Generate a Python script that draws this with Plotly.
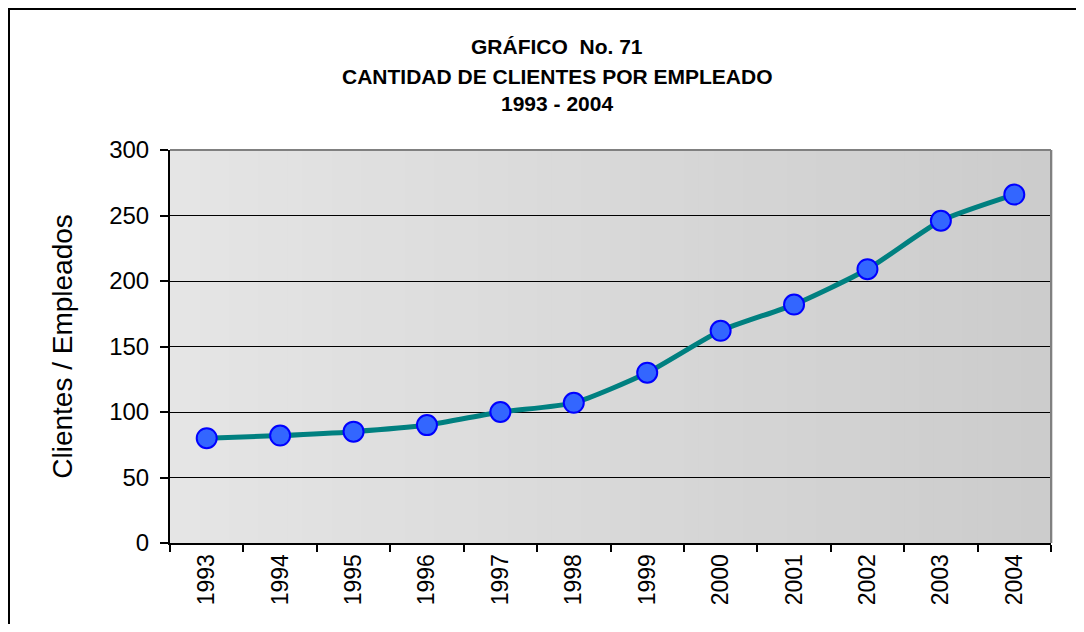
import plotly.graph_objects as go

years = ['1993', '1994', '1995', '1996', '1997', '1998',
         '1999', '2000', '2001', '2002', '2003', '2004']
clientes_por_empleado = [80, 82, 85, 90, 100, 107, 130, 162, 182, 209, 246, 266]
y_ticks = [0, 50, 100, 150, 200, 250, 300]
title_lines = ['GRÁFICO  No. 71', 'CANTIDAD DE CLIENTES POR EMPLEADO', '1993 - 2004']

FONT = 'Liberation Sans, Arial, sans-serif'

# page body has an 8px margin, so the figure is sized/placed to compensate
W, H = 1068, 616
L, R, T, B = 162, 25, 142, 81
plot_w = W - L - R
plot_h = H - T - B

fig = go.Figure()
fig.add_trace(go.Scatter(
    x=years, y=clientes_por_empleado,
    mode='lines+markers',
    line=dict(color='#008080', width=5, shape='spline', smoothing=0.6),
    marker=dict(size=20, color='#3366FF', line=dict(color='#0000FF', width=2)),
    showlegend=False,
))

# gradient plot background, light on the left, darker on the right
n_strips = 60
shapes = []
for i in range(n_strips):
    t = i / (n_strips - 1)
    g = round(229 - t * (229 - 204))
    shapes.append(dict(
        type='rect', xref='x domain', yref='y domain',
        x0=i / n_strips, x1=(i + 1) / n_strips + 0.002, y0=0, y1=1,
        fillcolor=f'rgb({g},{g},{g})', line=dict(width=0), layer='below'))

# grey frame on top and right of plot area
shapes.append(dict(type='line', xref='x domain', yref='y domain',
                   x0=0, x1=1, y0=1, y1=1, line=dict(color='#808080', width=2)))
shapes.append(dict(type='line', xref='x domain', yref='y domain',
                   x0=1, x1=1, y0=0, y1=1, line=dict(color='#808080', width=2)))
# outer chart border (only top and left fall inside the picture)
shapes.append(dict(type='rect', xref='paper', yref='paper',
                   x0=(1 - L) / plot_w, x1=(W + 20 - L) / plot_w,
                   y0=-(B + 20) / plot_h, y1=1 + (T - 1) / plot_h,
                   line=dict(color='black', width=2), fillcolor='rgba(0,0,0,0)'))

annotations = []
for text, ypix in zip(title_lines, [38, 68, 95]):
    annotations.append(dict(
        text=f'<b>{text}</b>', xref='paper', yref='paper', showarrow=False,
        x=(549 - L) / plot_w, y=1 + (T - ypix) / plot_h,
        xanchor='center', yanchor='middle',
        font=dict(size=21, family=FONT, color='black')))

fig.update_layout(
    width=W, height=H,
    margin=dict(l=L, r=R, t=T, b=B),
    paper_bgcolor='white',
    plot_bgcolor='rgba(0,0,0,0)',
    font=dict(family=FONT, color='black'),
    shapes=shapes,
    annotations=annotations,
)

fig.update_xaxes(
    type='category', tickson='boundaries',
    ticks='outside', ticklen=7, tickwidth=1.5, tickcolor='black',
    tickangle=-90, tickfont=dict(size=23, family=FONT),
    showline=True, linecolor='black', linewidth=2,
    showgrid=False, range=[-0.5, 11.5],
)
fig.update_yaxes(
    range=[0, 300], tickvals=y_ticks,
    ticks='outside', ticklen=8, tickwidth=1.5, tickcolor='black',
    tickfont=dict(size=24, family=FONT), ticklabelstandoff=6,
    showline=True, linecolor='black', linewidth=2,
    showgrid=True, gridcolor='black', gridwidth=1,
    zeroline=False,
    title=dict(text='Clientes / Empleados', font=dict(size=28, family=FONT), standoff=28),
)

fig.write_html('out.html')
